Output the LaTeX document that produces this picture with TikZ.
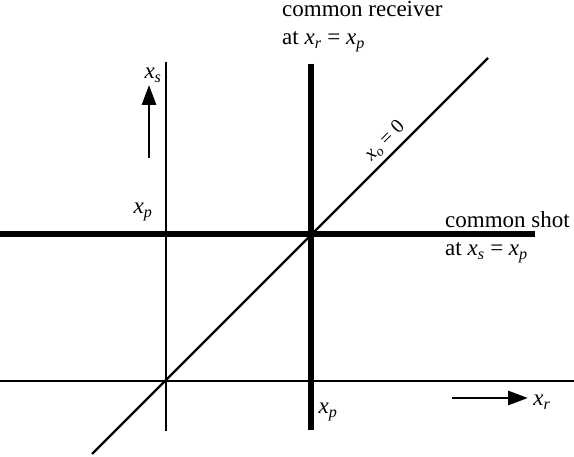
\documentclass[tikz,border=0pt]{standalone}
\usepackage{fontspec}
\setmainfont{Liberation Serif}
\usetikzlibrary{arrows.meta}
\newcommand\xsub[1]{\textit{x}\textsubscript{\textit{#1}}}
\begin{document}
\begin{tikzpicture}[x=1pt,y=-1pt,
  axisline/.style={line width=1.9pt},
  heavyline/.style={line width=6.5pt},
  diagline/.style={line width=2.2pt},
  lbl/.style={inner sep=0pt, font=\fontsize{23}{27}\selectfont},
  dirarrow/.style={line width=2.8pt, -{Triangle[length=20pt,width=14pt]}}]
\useasboundingbox (0,0) rectangle (574,457);
% coordinates
\coordinate (hL) at (0,381);
\coordinate (hR) at (574,381);
\coordinate (vT) at (166,62);
\coordinate (vB) at (166,431);
\coordinate (sL) at (0,234);
\coordinate (sR) at (535,234);
\coordinate (rT) at (311,64);
\coordinate (rB) at (311,430);
\coordinate (dB) at (92,454);
\coordinate (dT) at (488,58);
\coordinate (asB) at (149,158);
\coordinate (asT) at (149,85);
\coordinate (arL) at (452,398);
\coordinate (arR) at (528,398);
% lines
\draw[axisline] (hL) -- (hR);
\draw[axisline] (vT) -- (vB);
\draw[heavyline] (sL) -- (sR);
\draw[heavyline] (rT) -- (rB);
\draw[diagline] (dB) -- (dT);
\draw[dirarrow] (asB) -- (asT);
\draw[dirarrow] (arL) -- (arR);
% labels
\node[lbl, anchor=base west] (cr1) at (282,17) {common receiver};
\node[lbl, anchor=base west] (cr2) at (282,45) {at \xsub{r} = \xsub{p}};
\node[lbl, anchor=base west] (cs1) at (445,228) {common shot};
\node[lbl, anchor=base west] (cs2) at (445,256) {at \xsub{s} = \xsub{p}};
\node[lbl] (lxs) at (153,75) {\xsub{s}};
\node[lbl] (lxp1) at (143,212) {\xsub{p}};
\node[lbl] (lxp2) at (328,412) {\xsub{p}};
\node[lbl] (lxr) at (542,402) {\xsub{r}};
\node[lbl, rotate=45, font=\fontsize{20}{24}\selectfont] (lx0) at (385,141) {\xsub{o} = 0};
\end{tikzpicture}
\end{document}
